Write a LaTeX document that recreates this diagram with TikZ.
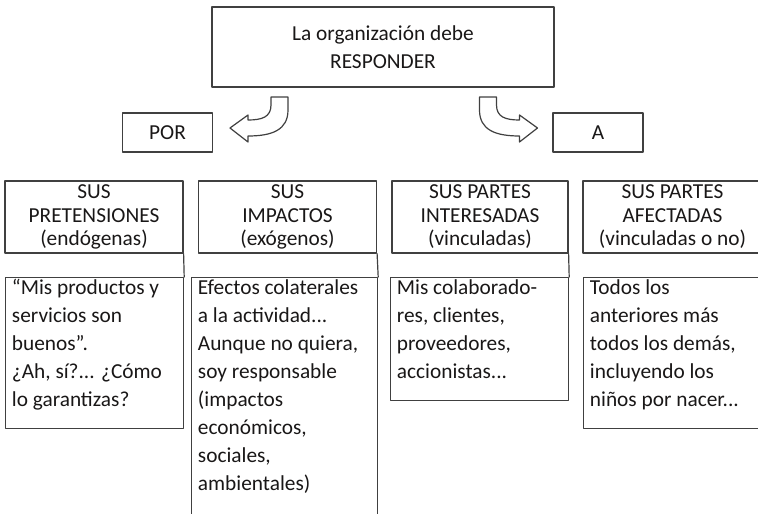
\documentclass[tikz,border=0pt]{standalone}
\usepackage{fontspec}
\setmainfont{Carlito}
\definecolor{ttgray}{rgb}{0.25,0.25,0.25}
\definecolor{txtgray}{rgb}{0.1,0.09,0.09}

\begin{document}
\begin{tikzpicture}[line cap=round,line join=round,x=0.75pt,y=-0.75pt,
	caja/.style={draw=ttgray,line width=0.9pt,inner sep=0pt,align=center,text=txtgray,
		font=\fontsize{16}{21}\selectfont},
	titulo/.style={caja,minimum width=133.5pt,minimum height=54pt,font=\fontsize{16}{17.6}\selectfont},
	cuerpo/.style={draw=ttgray,line width=0.9pt,inner sep=0pt,anchor=north west,minimum width=133.5pt},
	texto/.style={anchor=north west,align=left,inner xsep=5pt,inner ysep=1.5pt,text=txtgray,
		font=\fontsize{16}{21}\selectfont},
	linea/.style={draw=ttgray,line width=0.9pt},
	flecha/.style={draw=ttgray,line width=0.9pt,fill=white}]
	\useasboundingbox (0,0) rectangle (758,514);
	\clip (0,0) rectangle (758,514);
	\node[caja,minimum width=256.5pt,minimum height=60pt] (org) at (383,47) {La organización debe\\RESPONDER};
	\node[caja,minimum width=67pt,minimum height=29.25pt] (por) at (167.5,132.5) {POR};
	\node[caja,minimum width=67.5pt,minimum height=29.25pt] (a) at (598,132.5) {A};
	\draw[flecha] (271,97) -- (288,97) -- (288,110) .. controls (288,130) and (272,136) .. (248,136) -- (248,142) -- (230,128) -- (248,115) -- (248,120) .. controls (262,120) and (271,117) .. (271,105) -- cycle;
	\draw[flecha] (496.5,97) -- (479.5,97) -- (479.5,110) .. controls (479.5,130) and (495.5,136) .. (519.5,136) -- (519.5,142) -- (537.5,128) -- (519.5,115) -- (519.5,120) .. controls (505.5,120) and (496.5,117) .. (496.5,105) -- cycle;
	\node[titulo] (h1) at (94,217) {SUS\\PRETENSIONES\\(endógenas)};
	\node[titulo] (h2) at (287.5,217) {SUS\\IMPACTOS\\(exógenos)};
	\node[titulo,minimum width=132pt] (h3) at (480,217) {SUS PARTES\\INTERESADAS\\(vinculadas)};
	\node[titulo,minimum width=134.25pt] (h4) at (672.5,217) {SUS PARTES\\AFECTADAS\\(vinculadas o no)};
	\node[cuerpo,minimum height=113.25pt] (b1) at (5,277) {};
	\node[cuerpo,minimum width=139.5pt,minimum height=200pt] (b2) at (191,277) {};
	\node[cuerpo,minimum height=92.25pt] (b3) at (390,277) {};
	\node[cuerpo,minimum width=140pt,minimum height=113.25pt] (b4) at (583,277) {};
	\node[texto] (t1) at (b1.north west) {“Mis productos y\\servicios son\\buenos”.\\¿Ah, sí?... ¿Cómo\\lo garantizas?};
	\node[texto] (t2) at (b2.north west) {Efectos colaterales\\a la actividad...\\Aunque no quiera,\\soy responsable\\(impactos\\económicos,\\sociales,\\ambientales)};
	\node[texto] (t3) at (b3.north west) {Mis colaborado-\\res, clientes,\\proveedores,\\accionistas...};
	\node[texto] (t4) at (b4.north west) {Todos los\\anteriores más\\todos los demás,\\incluyendo los\\niños por nacer...};
	\draw[linea] (h1.south east) -- (b1.north east);
	\draw[linea] (h2.south east) -- (b2.north east);
	\draw[linea] (h3.south east) -- (b3.north east);
\end{tikzpicture}
\end{document}
